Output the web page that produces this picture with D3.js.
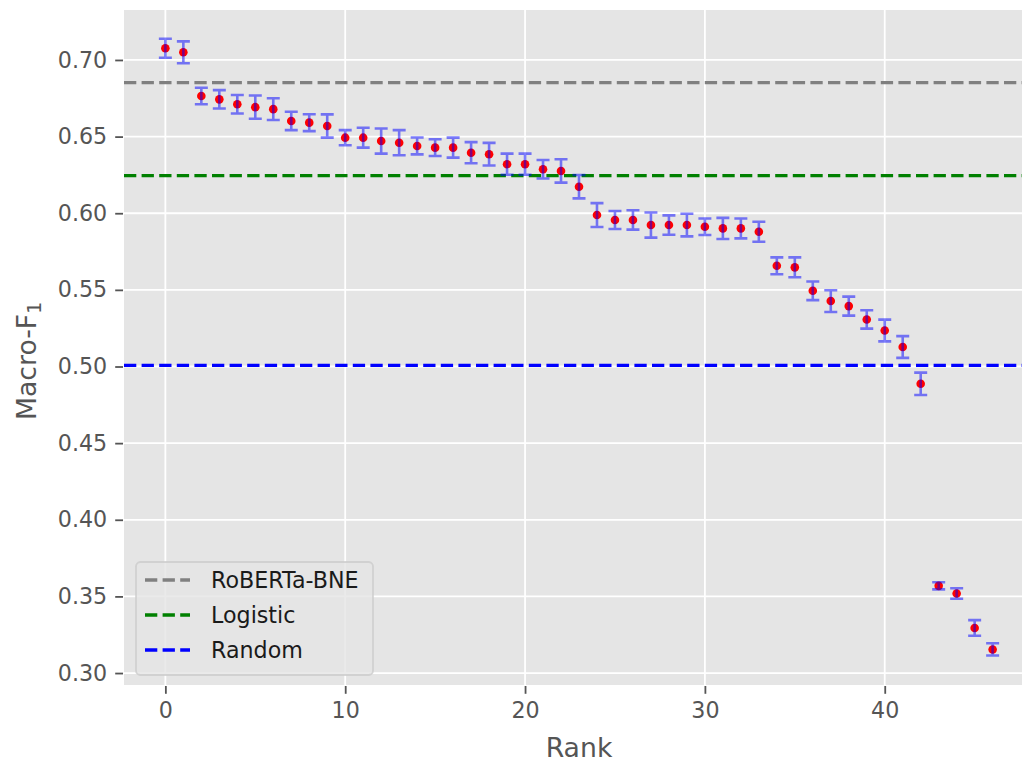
<!DOCTYPE html>
<html>
<head>
<meta charset="utf-8">
<script src="https://cdn.jsdelivr.net/npm/d3@7"></script>
<style>
  body { margin: 0; background: #fff; }
  svg { display: block; font-family: "DejaVu Sans", sans-serif; }
</style>
</head>
<body>
<div id="chart"></div>
<script>
// Macro-F1 per rank
let f1 = [0.7076, 0.7050, 0.6765, 0.6743, 0.6711, 0.6692, 0.6679, 0.6602, 0.6591, 0.6569,
          0.6493, 0.6493, 0.6471, 0.6460, 0.6439, 0.6428, 0.6428, 0.6395, 0.6385, 0.6320,
          0.6320, 0.6287, 0.6276, 0.6173, 0.5988, 0.5956, 0.5956, 0.5923, 0.5923, 0.5923,
          0.5912, 0.5901, 0.5901, 0.5879, 0.5657, 0.5647, 0.5494, 0.5427, 0.5394, 0.5307,
          0.5235, 0.5127, 0.4887, 0.3569, 0.3519, 0.3294, 0.3154];
// half width of each error bar
let err = [0.0062, 0.0071, 0.0054, 0.0060, 0.0060, 0.0076, 0.0071, 0.0060, 0.0055, 0.0076,
           0.0049, 0.0065, 0.0082, 0.0082, 0.0055, 0.0055, 0.0065, 0.0069, 0.0074, 0.0069,
           0.0069, 0.0060, 0.0076, 0.0076, 0.0078, 0.0059, 0.0063, 0.0082, 0.0063, 0.0074,
           0.0054, 0.0069, 0.0065, 0.0065, 0.0055, 0.0065, 0.0061, 0.0071, 0.0062, 0.0060,
           0.0071, 0.0071, 0.0073, 0.0023, 0.0034, 0.0051, 0.0040];

// baselines drawn as dashed horizontal lines
let baselineNames = ["RoBERTa-BNE", "Logistic", "Random"];
let baselineValues = [0.6852, 0.6245, 0.5007];
let baselineColors = ["#808080", "#008000", "#0000ff"];

let xTicks = [0, 10, 20, 30, 40];
let yTicks = [0.30, 0.35, 0.40, 0.45, 0.50, 0.55, 0.60, 0.65, 0.70];

let width = 1022;
let height = 763;
let pLeft = 124, pRight = 1034, pTop = 10, pBottom = 685;

let svg = d3.select("#chart")
    .append("svg")
    .attr("width", width)
    .attr("height", height);

let x = d3.scaleLinear().domain([-2.3, 48.3]).range([pLeft, pRight]);
let y = d3.scaleLinear().domain([0.2922, 0.7326]).range([pBottom, pTop]);

// panel background
svg.append("rect")
    .attr("x", pLeft).attr("y", pTop)
    .attr("width", pRight - pLeft).attr("height", pBottom - pTop)
    .attr("fill", "#e5e5e5");

// grid
svg.append("g").selectAll("line")
    .data(yTicks)
    .enter()
    .append("line")
    .attr("x1", pLeft).attr("x2", pRight)
    .attr("y1", d => y(d)).attr("y2", d => y(d))
    .attr("stroke", "white").attr("stroke-width", 1.8);

svg.append("g").selectAll("line")
    .data(xTicks)
    .enter()
    .append("line")
    .attr("x1", d => x(d)).attr("x2", d => x(d))
    .attr("y1", pTop).attr("y2", pBottom)
    .attr("stroke", "white").attr("stroke-width", 1.8);

// axes (ticks + labels)
let xAxis = svg.append("g")
    .attr("transform", "translate(0," + (pBottom + 1) + ")")
    .call(d3.axisBottom(x).tickValues(xTicks).tickSize(7.8).tickPadding(8).tickFormat(d3.format("d")));
let yAxis = svg.append("g")
    .attr("transform", "translate(" + (pLeft - 1) + ",0)")
    .call(d3.axisLeft(y).tickValues(yTicks).tickSize(7.8).tickPadding(8).tickFormat(d3.format(".2f")));

[xAxis, yAxis].forEach(a => {
    a.select(".domain").remove();
    a.selectAll(".tick line").attr("stroke", "#555555").attr("stroke-width", 1.8);
    a.selectAll(".tick text")
        .attr("fill", "#555555")
        .style("font-size", "22.2px")
        .style("font-family", "'DejaVu Sans'");
});

// baselines
svg.append("g").selectAll("line")
    .data(baselineValues)
    .enter()
    .append("line")
    .attr("x1", pLeft).attr("x2", pRight)
    .attr("y1", d => y(d)).attr("y2", d => y(d))
    .attr("stroke", (d, i) => baselineColors[i])
    .attr("stroke-width", 3.3)
    .attr("stroke-dasharray", "12.3,5.3");

// points
svg.append("g").selectAll("circle")
    .data(f1)
    .enter()
    .append("circle")
    .attr("cx", (d, i) => x(i))
    .attr("cy", d => y(d))
    .attr("r", 4.3)
    .attr("fill", "#ff0000");

// error bars on top of the points
let eb = svg.append("g")
    .attr("stroke", "#0000ff")
    .attr("stroke-opacity", 0.5)
    .attr("stroke-width", 2.6);
f1.forEach((d, i) => {
    let cx = x(i), y0 = y(d - err[i]), y1 = y(d + err[i]);
    let p = d3.path();
    p.moveTo(cx, y0); p.lineTo(cx, y1);
    p.moveTo(cx - 6.5, y0); p.lineTo(cx + 6.5, y0);
    p.moveTo(cx - 6.5, y1); p.lineTo(cx + 6.5, y1);
    eb.append("path").attr("d", p.toString()).attr("fill", "none");
});

// legend
let lg = svg.append("g").attr("transform", "translate(136,562)");
lg.append("rect")
    .attr("width", 237).attr("height", 113)
    .attr("rx", 4.4).attr("ry", 4.4)
    .attr("fill", "#e5e5e5").attr("fill-opacity", 0.8)
    .attr("stroke", "#cccccc").attr("stroke-opacity", 0.8).attr("stroke-width", 1.8);
baselineNames.forEach((name, i) => {
    let ly = 18 + i * 35;
    lg.append("line")
        .attr("x1", 9).attr("x2", 54)
        .attr("y1", ly).attr("y2", ly)
        .attr("stroke", baselineColors[i])
        .attr("stroke-width", 3.3)
        .attr("stroke-dasharray", "12.3,5.3");
    lg.append("text")
        .attr("x", 75).attr("y", ly)
        .attr("dy", "0.35em")
        .style("font-size", "22.2px")
        .attr("fill", "#1a1a1a")
        .text(name);
});

// axis titles
svg.append("text")
    .attr("x", (pLeft + pRight) / 2)
    .attr("y", 757)
    .attr("text-anchor", "middle")
    .style("font-size", "26.7px")
    .attr("fill", "#555555")
    .text("Rank");

let yl = svg.append("text")
    .attr("transform", "translate(36,361) rotate(-90)")
    .attr("text-anchor", "middle")
    .style("font-size", "26.7px")
    .attr("fill", "#555555");
yl.append("tspan").text("Macro-F");
yl.append("tspan").attr("dy", "0.25em").style("font-size", "18.7px").text("1");
</script>
</body>
</html>
